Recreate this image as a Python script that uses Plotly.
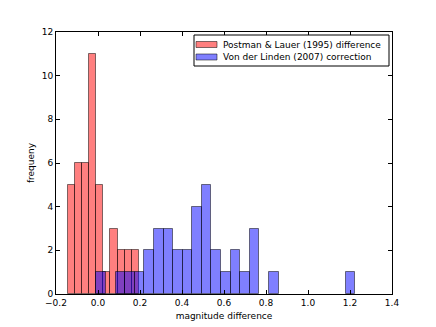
import plotly.graph_objects as go

# bin edges and counts
red_edges = [-0.143, -0.109, -0.076, -0.042, -0.008, 0.026, 0.059, 0.093, 0.127, 0.160, 0.194]
red_counts = [5, 6, 6, 11, 5, 1, 3, 2, 2, 2]

blue_start = -0.008
blue_width = 0.0457
blue_counts = [1, 0, 1, 1, 1, 2, 3, 3, 2, 2, 4, 5, 2, 1, 2, 1, 3, 0, 1,
               0, 0, 0, 0, 0, 0, 0, 1]
blue_edges = [blue_start + blue_width * i for i in range(len(blue_counts) + 1)]

x_ticks = [-0.2, 0.0, 0.2, 0.4, 0.6, 0.8, 1.0, 1.2, 1.4]
y_ticks = [0, 2, 4, 6, 8, 10, 12]

labels = ['Postman & Lauer (1995) difference', 'Von der Linden (2007) correction']
fills = ['rgba(255,0,0,0.5)', 'rgba(0,0,255,0.5)']
edge = 'rgba(0,0,0,0.5)'


def bar_trace(edges, counts, color, name):
    keep = [i for i in range(len(counts)) if counts[i] > 0]
    centers = [(edges[i] + edges[i + 1]) / 2 for i in keep]
    widths = [edges[i + 1] - edges[i] for i in keep]
    return go.Bar(
        x=centers, y=[counts[i] for i in keep], width=widths, name=name,
        marker=dict(color=color, line=dict(color=edge, width=1)),
    )


fig = go.Figure()
fig.add_trace(bar_trace(red_edges, red_counts, fills[0], labels[0]))
fig.add_trace(bar_trace(blue_edges, blue_counts, fills[1], labels[1]))

# page offset: the html body has an 8px margin
W, H = 436, 327
L, R, T, B = 48, 52, 24, 41
pw, ph = W - L - R, H - T - B


def px(x):
    return (x - 8 - L) / pw


def py(y):
    return (H - B + 8 - y) / ph


# matplotlib style legend box
fig.add_shape(type='rect', xref='paper', yref='paper',
              x0=px(194), x1=px(389), y0=py(66), y1=py(35),
              line=dict(color='black', width=1), fillcolor='white', layer='above')
for i, (lab, col) in enumerate(zip(labels, fills)):
    yc = 44.5 + 12.5 * i
    fig.add_shape(type='rect', xref='paper', yref='paper',
                  x0=px(196), x1=px(217), y0=py(yc + 3), y1=py(yc - 3),
                  line=dict(color=edge, width=1), fillcolor=col, layer='above')
    fig.add_annotation(xref='paper', yref='paper', x=px(221), y=py(yc),
                       xanchor='left', yanchor='middle', showarrow=False,
                       text=lab, font=dict(size=9, color='black'))

axis_style = dict(
    showline=True, linecolor='black', linewidth=1, mirror='ticks',
    ticks='inside', ticklen=4, tickcolor='black', showgrid=False,
    zeroline=False, tickfont=dict(size=9, color='black'), automargin=False,
)

fig.update_layout(
    width=W, height=H,
    margin=dict(l=L, r=R, t=T, b=B),
    barmode='overlay', bargap=0,
    paper_bgcolor='white', plot_bgcolor='white',
    font=dict(family='DejaVu Sans', size=9, color='black'),
    showlegend=False,
    xaxis=dict(axis_style, range=[-0.2, 1.4], tickvals=x_ticks,
               tickformat='.1f',
               title=dict(text='magnitude difference', font=dict(size=9),
                          standoff=5)),
    yaxis=dict(axis_style, range=[0, 12], tickvals=y_ticks,
               title=dict(text='frequeny', font=dict(size=9), standoff=5)),
)

fig.write_html("out.html")
